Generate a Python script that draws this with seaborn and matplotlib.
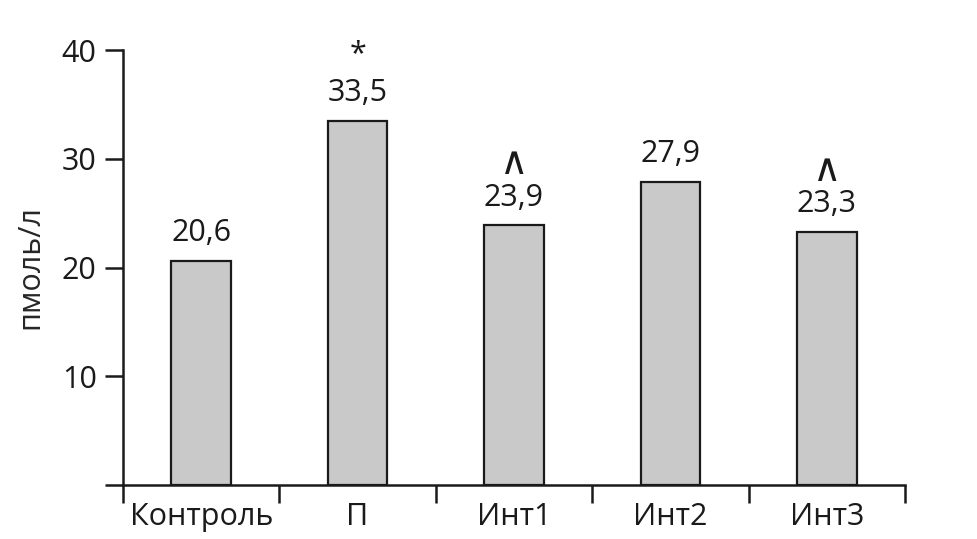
import pandas as pd
import matplotlib.pyplot as plt
import seaborn as sns
from matplotlib.ticker import FixedLocator

# Data
groups = ["Контроль", "П", "Инт1", "Инт2", "Инт3"]
values = [20.6, 33.5, 23.9, 27.9, 23.3]
marks = ["", "*", "∧", "", "∧"]

df = pd.DataFrame({"group": groups, "value": values})

sns.set_style("ticks")
plt.rcParams['font.family'] = ['Open Sans', 'DejaVu Sans']
plt.rcParams['font.size'] = 22

fig = plt.figure(figsize=(9.77, 5.39), dpi=100)
ax = fig.add_axes([0.1259, 0.1002, 0.8004, 0.807])

sns.barplot(data=df, x="group", y="value", color="#c8c9c8", width=0.38,
            edgecolor="#1a1a1a", linewidth=1.6, saturation=1, ax=ax)

ax.set_xlim(-0.5, 4.5)
ax.set_ylim(0, 40)
ax.set_yticks([0, 10, 20, 30, 40])
ax.set_yticklabels(["", "10", "20", "30", "40"])
ax.set_ylabel("пмоль/л", labelpad=12)
ax.set_xlabel("")

# category separators as downward ticks
ax.xaxis.set_minor_locator(FixedLocator([-0.5, 0.5, 1.5, 2.5, 3.5, 4.5]))
ax.tick_params(axis="x", which="major", length=0, pad=12)
ax.tick_params(axis="x", which="minor", length=13, width=1.8, direction="out", color="#1a1a1a")
ax.tick_params(axis="y", length=13, width=1.8, direction="out", color="#1a1a1a", pad=6)

for side in ["top", "right"]:
    ax.spines[side].set_visible(False)
for side in ["left", "bottom"]:
    ax.spines[side].set_linewidth(1.8)
    ax.spines[side].set_color("#1a1a1a")
ax.spines["left"].set_bounds(0, 40)

for i, (v, m) in enumerate(zip(values, marks)):
    ax.annotate(f"{v:.1f}".replace(".", ","), (i, v), xytext=(0, 9),
                textcoords="offset points", ha="center", va="bottom",
                color="#1a1a1a")
    if m == "*":
        ax.annotate(m, (i, v), xytext=(0, 37), textcoords="offset points",
                    ha="center", va="bottom", color="#1a1a1a", fontsize=22)
    elif m:
        ax.annotate(m, (i, v), xytext=(0, 31), textcoords="offset points",
                    ha="center", va="bottom", color="#1a1a1a", fontsize=28,
                    family=["DejaVu Sans"])

for lbl in ax.get_xticklabels() + ax.get_yticklabels():
    lbl.set_color("#1a1a1a")

fig.savefig("out.png", dpi=100)
